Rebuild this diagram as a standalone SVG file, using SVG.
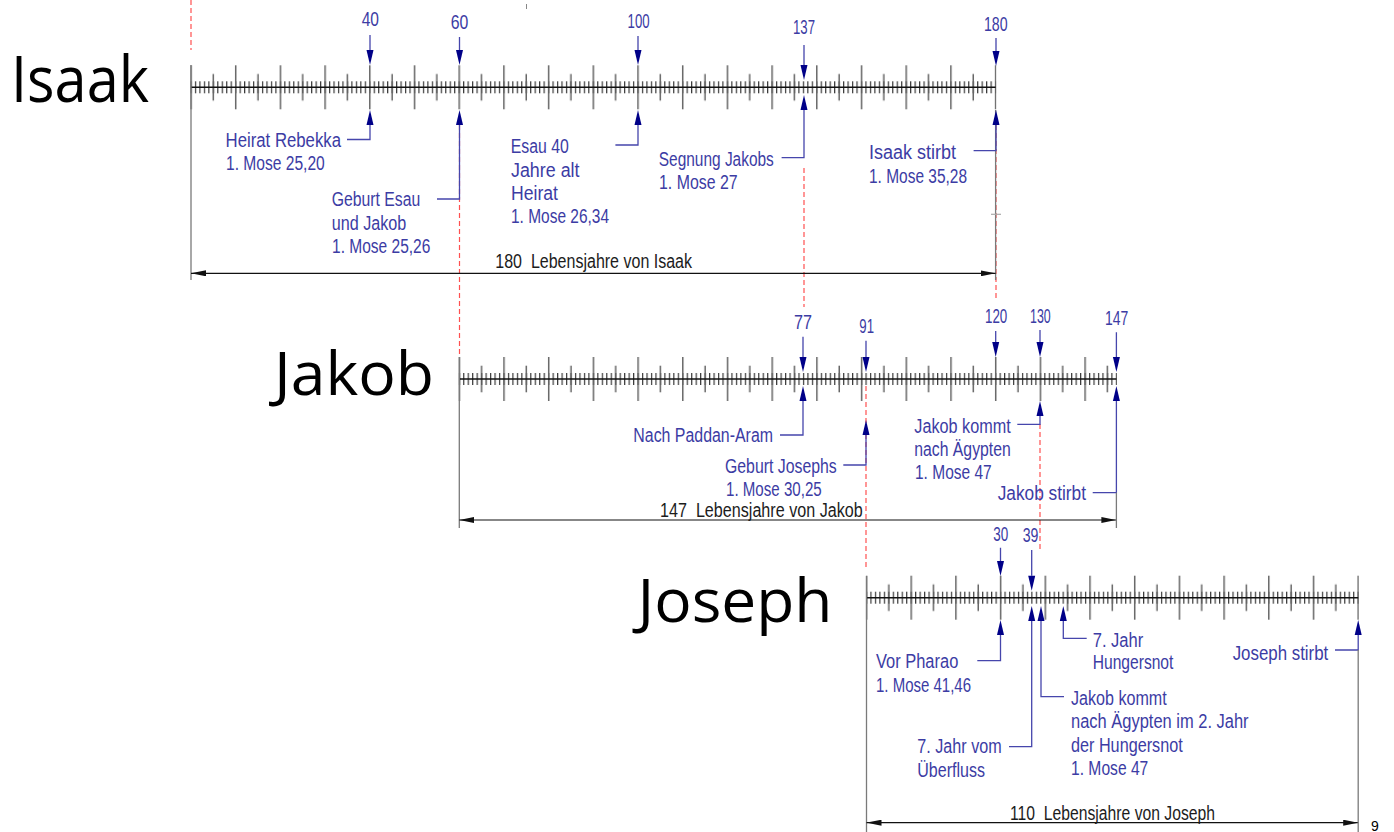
<svg xmlns="http://www.w3.org/2000/svg" xmlns:xlink="http://www.w3.org/1999/xlink" width="1394" height="832" viewBox="0 0 1394 832">
<style>
.lbl{font-family:"Liberation Sans",Arial,sans-serif;font-size:19.5px;fill:#3c3ca4}
.dimt{font-family:"Liberation Sans",Arial,sans-serif;font-size:19.5px;fill:#1c1c1c}
.name{font-family:"Open Sans","Noto Sans",sans-serif;fill:#000}
.ld{stroke:#4646ac;stroke-width:1.3;fill:none}
.ext{stroke:#7a7a7a;stroke-width:1.3;fill:none}
.red{stroke:#ff5050;stroke-width:1.2;stroke-dasharray:5 3;fill:none}
.arr{fill:#000088}
.rl{stroke:#111;stroke-width:1.5}
.dim{stroke:#111;stroke-width:1.2;fill:none;marker-start:url(#dm);marker-end:url(#dm)}
</style>
<defs>
<pattern id="ps" patternUnits="userSpaceOnUse" x="-0.6" y="-6" width="4.47" height="12">
<rect x="0" y="0" width="1.2" height="12" fill="#3a3a3a"/>
</pattern>
<pattern id="pb" patternUnits="userSpaceOnUse" x="-0.75" y="-22" width="44.7" height="44">
<rect x="0" y="0" width="1.5" height="44" fill="#666"/>
<rect x="22.35" y="8.7" width="1.5" height="26.6" fill="#666"/>
</pattern>
<path id="ad" class="arr" d="M0,0 L-3.5,-15 L3.5,-15 Z"/>
<path id="au" class="arr" d="M0,0 L-3.5,15 L3.5,15 Z"/>
<marker id="dm" viewBox="0 0 15 6" refX="15" refY="3" markerWidth="15" markerHeight="6" markerUnits="userSpaceOnUse" orient="auto-start-reverse">
<path d="M0,0 L15,3 L0,6 Z" fill="#111"/>
</marker>
</defs>

<g id="connectors">
<path class="red" d="M191,0 V50"/>
<path class="red" d="M459.5,125 V357"/>
<path class="red" d="M804,168 V307"/>
<path class="red" d="M996,125 V300"/>
<path class="red" d="M866,386 V570"/>
<path class="red" d="M1040,424 V552"/>
<path d="M526.5,4 V9" stroke="#888" stroke-width="1"/>
</g>

<g id="isaak">
<text class="name" x="11" y="101.7" font-size="64" textLength="138" lengthAdjust="spacingAndGlyphs">Isaak</text>
<g transform="translate(191,87.3)">
<rect x="-0.6" y="-6" width="805.8" height="12" fill="url(#ps)"/>
<rect x="-0.75" y="-22" width="806.1" height="44" fill="url(#pb)"/>
<line class="rl" x1="0" y1="0" x2="804.6" y2="0"/>
</g>
<path class="ext" d="M191,65 V280 M995.6,110 V280"/>
<path d="M991,214.3 H1001" stroke="#aaa" stroke-width="1.2"/>
<path class="dim" d="M191,273.3 H995.6"/>
<text class="dimt" x="495.3" y="268.3" textLength="196.7" lengthAdjust="spacingAndGlyphs">180&#160; Lebensjahre von Isaak</text>
</g>

<g id="isaak-40">
<path class="ld" d="M370,35 V50 M370,125 V139.5 H347"/>
<use xlink:href="#ad" x="370" y="65"/><use xlink:href="#au" x="370" y="110"/>
<text class="lbl" x="361.7" y="25.7" textLength="17.3" lengthAdjust="spacingAndGlyphs">40</text>
<text class="lbl" x="225.6" y="146.7" textLength="115.4" lengthAdjust="spacingAndGlyphs">Heirat Rebekka</text>
<text class="lbl" x="226" y="170" textLength="98.8" lengthAdjust="spacingAndGlyphs">1. Mose 25,20</text>
</g>
<g id="isaak-60">
<path class="ld" d="M459.5,37 V50 M459.5,125 V199 H437"/>
<use xlink:href="#ad" x="459.5" y="65"/><use xlink:href="#au" x="459.5" y="110"/>
<text class="lbl" x="450.7" y="29.3" textLength="17.6" lengthAdjust="spacingAndGlyphs">60</text>
<text class="lbl" x="331.7" y="206" textLength="88.5" lengthAdjust="spacingAndGlyphs">Geburt Esau</text>
<text class="lbl" x="331.7" y="230" textLength="74.6" lengthAdjust="spacingAndGlyphs">und Jakob</text>
<text class="lbl" x="332" y="252.7" textLength="98.4" lengthAdjust="spacingAndGlyphs">1. Mose 25,26</text>
</g>
<g id="isaak-100">
<path class="ld" d="M638,36 V50 M638,125 V145 H615.4"/>
<use xlink:href="#ad" x="638" y="65"/><use xlink:href="#au" x="638" y="110"/>
<text class="lbl" x="627.6" y="28.3" textLength="22" lengthAdjust="spacingAndGlyphs">100</text>
<text class="lbl" x="510.8" y="153.3" textLength="58" lengthAdjust="spacingAndGlyphs">Esau 40</text>
<text class="lbl" x="511" y="176.7" textLength="68.5" lengthAdjust="spacingAndGlyphs">Jahre alt</text>
<text class="lbl" x="511" y="200" textLength="47" lengthAdjust="spacingAndGlyphs">Heirat</text>
<text class="lbl" x="511" y="223.3" textLength="98" lengthAdjust="spacingAndGlyphs">1. Mose 26,34</text>
</g>
<g id="isaak-137">
<path class="ld" d="M804,45 V65 M804,110 V157.7 H781.6"/>
<use xlink:href="#ad" x="804" y="80"/><use xlink:href="#au" x="804" y="95"/>
<text class="lbl" x="793" y="34" textLength="22" lengthAdjust="spacingAndGlyphs">137</text>
<text class="lbl" x="658.8" y="165.7" textLength="115" lengthAdjust="spacingAndGlyphs">Segnung Jakobs</text>
<text class="lbl" x="659" y="189" textLength="78.6" lengthAdjust="spacingAndGlyphs">1. Mose 27</text>
</g>
<g id="isaak-180">
<path class="ld" d="M996,38 V51 M996,125 V150.7 H973.6"/>
<use xlink:href="#ad" x="996" y="66"/><use xlink:href="#au" x="996" y="110"/>
<text class="lbl" x="984" y="30.7" textLength="23.6" lengthAdjust="spacingAndGlyphs">180</text>
<text class="lbl" x="869" y="159" textLength="87" lengthAdjust="spacingAndGlyphs">Isaak stirbt</text>
<text class="lbl" x="869" y="182.7" textLength="98" lengthAdjust="spacingAndGlyphs">1. Mose 35,28</text>
</g>

<g id="jakob">
<text class="name" x="274" y="395" font-size="60" textLength="160" lengthAdjust="spacingAndGlyphs">Jakob</text>
<g transform="translate(459.3,379)">
<rect x="-0.6" y="-6" width="658.3" height="12" fill="url(#ps)"/>
<rect x="-0.75" y="-22" width="658.6" height="44" fill="url(#pb)"/>
<line class="rl" x1="0" y1="0" x2="657.1" y2="0"/>
</g>
<path class="ext" d="M459.3,357 V528"/>
<path class="dim" d="M459.3,520 H1116.4"/>
<text class="dimt" x="660" y="516.7" textLength="202.7" lengthAdjust="spacingAndGlyphs">147&#160; Lebensjahre von Jakob</text>
</g>

<g id="jakob-77">
<path class="ld" d="M803,336.7 V357 M803,401 V435 H780"/>
<use xlink:href="#ad" x="803" y="372"/><use xlink:href="#au" x="803" y="386"/>
<text class="lbl" x="794" y="329.3" textLength="18" lengthAdjust="spacingAndGlyphs">77</text>
<text class="lbl" x="633.3" y="441.7" textLength="139.7" lengthAdjust="spacingAndGlyphs">Nach Paddan-Aram</text>
</g>
<g id="jakob-91">
<path class="ld" d="M866,340.7 V357 M866,435 V465 H843.3"/>
<use xlink:href="#ad" x="866" y="372"/><use xlink:href="#au" x="866" y="420"/>
<text class="lbl" x="859.3" y="333.3" textLength="14.7" lengthAdjust="spacingAndGlyphs">91</text>
<text class="lbl" x="725" y="472.7" textLength="111.7" lengthAdjust="spacingAndGlyphs">Geburt Josephs</text>
<text class="lbl" x="726" y="496" textLength="95.7" lengthAdjust="spacingAndGlyphs">1. Mose 30,25</text>
</g>
<g id="jakob-120">
<path class="ld" d="M995.7,331 V342"/>
<use xlink:href="#ad" x="995.7" y="357"/>
<text class="lbl" x="985" y="323.3" textLength="22.3" lengthAdjust="spacingAndGlyphs">120</text>
</g>
<g id="jakob-130">
<path class="ld" d="M1040,330 V342 M1040,416 V424.3 H1017.3"/>
<use xlink:href="#ad" x="1040" y="357"/><use xlink:href="#au" x="1040" y="401"/>
<text class="lbl" x="1030" y="322.7" textLength="20.7" lengthAdjust="spacingAndGlyphs">130</text>
<text class="lbl" x="914.3" y="432.7" textLength="96.4" lengthAdjust="spacingAndGlyphs">Jakob kommt</text>
<text class="lbl" x="914.3" y="455.7" textLength="96.4" lengthAdjust="spacingAndGlyphs">nach Ägypten</text>
<text class="lbl" x="915" y="478.5" textLength="76.7" lengthAdjust="spacingAndGlyphs">1. Mose 47</text>
</g>
<g id="jakob-147">
<path class="ld" d="M1116.4,332.3 V357 M1116.4,401 V492.7 H1092.7"/>
<path class="ext" d="M1116.4,492.7 V528"/>
<use xlink:href="#ad" x="1116.4" y="372"/><use xlink:href="#au" x="1116.4" y="386"/>
<text class="lbl" x="1105" y="325" textLength="23.3" lengthAdjust="spacingAndGlyphs">147</text>
<text class="lbl" x="997.7" y="500" textLength="88.3" lengthAdjust="spacingAndGlyphs">Jakob stirbt</text>
</g>

<g id="joseph">
<text class="name" x="637.5" y="621.7" font-size="61" textLength="195" lengthAdjust="spacingAndGlyphs">Joseph</text>
<g transform="translate(866.5,597.7)">
<rect x="-0.6" y="-6" width="492.9" height="12" fill="url(#ps)"/>
<rect x="-0.75" y="-22" width="493.2" height="44" fill="url(#pb)"/>
<line class="rl" x1="0" y1="0" x2="491.7" y2="0"/>
</g>
<path class="ext" d="M866.5,576 V832"/>
<path class="dim" d="M866.5,822.7 H1358.2"/>
<text class="dimt" x="1010" y="820" textLength="205" lengthAdjust="spacingAndGlyphs">110&#160; Lebensjahre von Joseph</text>
</g>

<g id="joseph-30">
<path class="ld" d="M1000.5,547.7 V561 M1000.5,635 V660.7 H977.3"/>
<use xlink:href="#ad" x="1000.5" y="576"/><use xlink:href="#au" x="1000.5" y="620"/>
<text class="lbl" x="993.3" y="540.7" textLength="15" lengthAdjust="spacingAndGlyphs">30</text>
<text class="lbl" x="876" y="668.3" textLength="82.3" lengthAdjust="spacingAndGlyphs">Vor Pharao</text>
<text class="lbl" x="876" y="691.7" textLength="95" lengthAdjust="spacingAndGlyphs">1. Mose 41,46</text>
</g>
<g id="joseph-39">
<path class="ld" d="M1031.7,550 V575.7 M1031.7,621 V746.7 H1009"/>
<use xlink:href="#ad" x="1031.7" y="590.7"/><use xlink:href="#au" x="1031.7" y="606"/>
<text class="lbl" x="1022.7" y="541.7" textLength="15.7" lengthAdjust="spacingAndGlyphs">39</text>
<text class="lbl" x="917.3" y="753.3" textLength="84.4" lengthAdjust="spacingAndGlyphs">7. Jahr vom</text>
<text class="lbl" x="917.3" y="776.7" textLength="67.7" lengthAdjust="spacingAndGlyphs">Überfluss</text>
</g>
<g id="joseph-jakob">
<path class="ld" d="M1041,621 V696.7 H1064"/>
<use xlink:href="#au" x="1041" y="606"/>
<text class="lbl" x="1071" y="705" textLength="95.7" lengthAdjust="spacingAndGlyphs">Jakob kommt</text>
<text class="lbl" x="1071" y="728.3" textLength="177.6" lengthAdjust="spacingAndGlyphs">nach Ägypten im 2. Jahr</text>
<text class="lbl" x="1071" y="751.7" textLength="111.7" lengthAdjust="spacingAndGlyphs">der Hungersnot</text>
<text class="lbl" x="1071" y="775" textLength="77.3" lengthAdjust="spacingAndGlyphs">1. Mose 47</text>
</g>
<g id="joseph-hunger">
<path class="ld" d="M1063.3,621 V638.3 H1086.7"/>
<use xlink:href="#au" x="1063.3" y="606"/>
<text class="lbl" x="1092.7" y="646.7" textLength="50.6" lengthAdjust="spacingAndGlyphs">7. Jahr</text>
<text class="lbl" x="1092.7" y="669" textLength="80.7" lengthAdjust="spacingAndGlyphs">Hungersnot</text>
</g>
<g id="joseph-110">
<path class="ld" d="M1358.2,635 V650 H1335"/>
<path class="ext" d="M1358.2,650 V832"/>
<use xlink:href="#au" x="1358.2" y="620"/>
<text class="lbl" x="1232.7" y="660" textLength="95.6" lengthAdjust="spacingAndGlyphs">Joseph stirbt</text>
</g>

<text x="1371" y="831" font-family="Liberation Sans,Arial,sans-serif" font-size="14" fill="#000">9</text>
</svg>
